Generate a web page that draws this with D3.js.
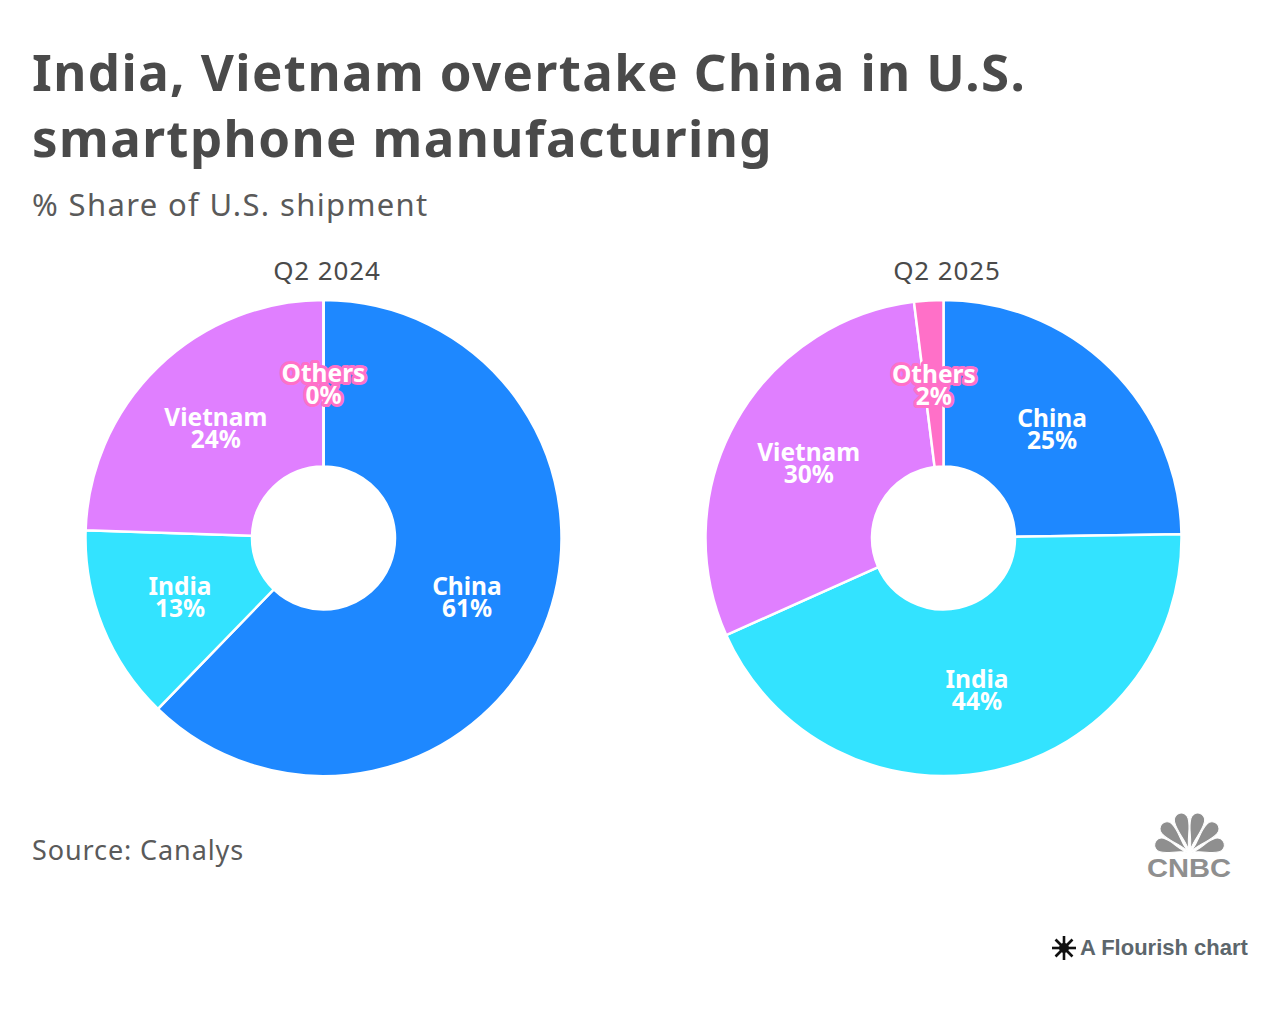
<!DOCTYPE html>
<html>
<head>
<meta charset="utf-8">
<script src="https://cdn.jsdelivr.net/npm/d3@7"></script>
<style>
  html, body { margin: 0; padding: 0; background: #fff; }
  svg { display: block; }
  text { font-family: "Noto Sans", sans-serif; }
</style>
</head>
<body>
<div id="chart"></div>
<script>
// data
var categories = ["China", "India", "Vietnam", "Others"];
var share2024 = [61, 13, 24, 0];
var share2025 = [25, 44, 30, 2];
var periods = ["Q2 2024", "Q2 2025"];
var colors = ["#1e88ff", "#33e3ff", "#e07fff", "#ff70c8"];

var titleLines = ["India, Vietnam overtake China in U.S.", "smartphone manufacturing"];
var subtitle = "% Share of U.S. shipment";
var source = "Source: Canalys";

var width = 1280, height = 1009;
var outerR = 238, innerR = 71.5;

var svg = d3.select("#chart").append("svg")
    .attr("width", width)
    .attr("height", height);

// header
svg.selectAll(".title").data(titleLines).enter().append("text")
    .attr("class", "title")
    .attr("x", 32)
    .attr("y", function(d, i) { return 91 + i * 66; })
    .style("font-size", "51px")
    .style("font-weight", 700)
    .style("letter-spacing", "1.42px")
    .style("fill", "#4a4a4a")
    .text(function(d) { return d; });

svg.append("text")
    .attr("x", 32).attr("y", 216)
    .style("font-size", "31px")
    .style("letter-spacing", "1.35px")
    .style("fill", "#5a5a5a")
    .text(subtitle);

svg.append("text")
    .attr("x", 32).attr("y", 860)
    .style("font-size", "27px")
    .style("letter-spacing", "0.9px")
    .style("fill", "#5a5a5a")
    .text(source);

var pie = d3.pie().sort(null);
var arc = d3.arc().innerRadius(innerR).outerRadius(outerR);

function drawDonut(cx, titleX, period, values) {
    var g = svg.append("g").attr("transform", "translate(" + cx + ",538)");
    var arcs = pie(values);

    g.selectAll("path").data(arcs).enter().append("path")
        .attr("d", arc)
        .style("fill", function(d, i) { return colors[i]; })
        .style("stroke", "#fff")
        .style("stroke-width", 2.5);

    var labels = g.selectAll(".lab").data(arcs).enter().append("text")
        .attr("class", "lab")
        .attr("text-anchor", "middle")
        .attr("transform", function(d) {
            var c = arc.centroid(d);
            return "translate(" + c[0] + "," + c[1] + ")";
        })
        .style("font-size", "24.5px")
        .style("font-weight", 700)
        .style("fill", "#fff")
        .style("stroke", function(d, i) { return colors[i]; })
        .style("stroke-width", 6)
        .style("stroke-linejoin", "round")
        .style("paint-order", "stroke");

    labels.append("tspan")
        .attr("x", 0).attr("y", -1)
        .text(function(d, i) { return categories[i]; });
    labels.append("tspan")
        .attr("x", 0).attr("y", 21)
        .text(function(d) { return d.value + "%"; });

    svg.append("text")
        .attr("x", titleX).attr("y", 280)
        .attr("text-anchor", "middle")
        .style("font-size", "26px")
        .style("letter-spacing", "0.9px")
        .style("fill", "#4a4a4a")
        .text(period);
}

drawDonut(323.5, 327, periods[0], share2024);
drawDonut(943.5, 947, periods[1], share2025);

// CNBC logo
var logo = svg.append("g").attr("transform", "translate(1189.5,853)");
var feathers = [[-74, 36], [-43, 40], [-14, 41], [14, 41], [43, 40], [74, 36]];
feathers.forEach(function(f) {
    var L = f[1], W = 14;
    logo.append("path")
        .attr("transform", "rotate(" + f[0] + ")")
        .attr("d", "M0,-3 C" + (-W * 0.1) + "," + (-L * 0.4) + " " + (-W / 2) + "," + (-L * 0.55) + " " + (-W / 2) + "," + (-L + W / 2)
            + " A" + (W / 2) + "," + (W / 2) + " 0 0 1 " + (W / 2) + "," + (-L + W / 2)
            + " C" + (W / 2) + "," + (-L * 0.55) + " " + (W * 0.1) + "," + (-L * 0.4) + " 0,-3 Z")
        .style("fill", "#8f8f8f")
        .style("stroke", "#fff")
        .style("stroke-width", 1);
});
svg.append("text")
    .attr("x", 1147).attr("y", 877)
    .attr("textLength", 84)
    .attr("lengthAdjust", "spacingAndGlyphs")
    .style("font-family", "'Liberation Sans', sans-serif")
    .style("font-size", "25px")
    .style("font-weight", 700)
    .style("fill", "#8f8f8f")
    .text("CNBC");

// Flourish credit
var star = svg.append("g").attr("transform", "translate(1064,948)");
d3.range(4).forEach(function(i) {
    star.append("line")
        .attr("x1", 0).attr("y1", -12).attr("x2", 0).attr("y2", 12)
        .attr("transform", "rotate(" + (i * 45) + ")")
        .style("stroke", "#111")
        .style("stroke-width", 2.6);
});
star.append("circle").attr("r", 5).style("fill", "#111");

svg.append("text")
    .attr("x", 1080).attr("y", 955)
    .style("font-family", "'Liberation Sans', sans-serif")
    .style("font-size", "22px")
    .style("font-weight", 700)
    .style("fill", "#5c666c")
    .text("A Flourish chart");
</script>
</body>
</html>
